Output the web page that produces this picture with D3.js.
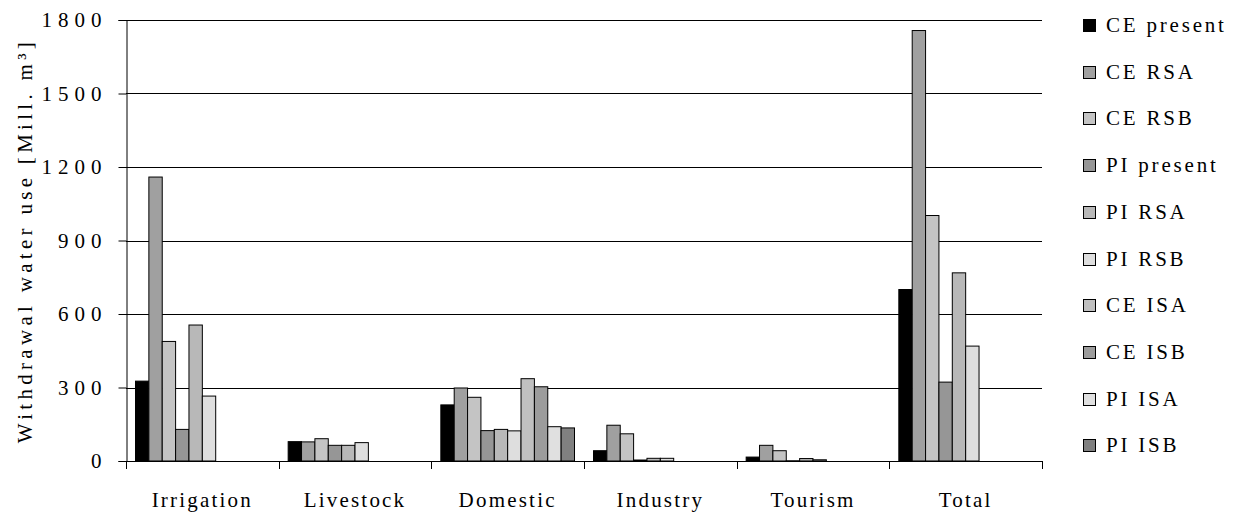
<!DOCTYPE html>
<html>
<head>
<meta charset="utf-8">
<script src="https://cdn.jsdelivr.net/npm/d3@7"></script>
<style>
  body { margin: 0; background: #fff; }
  #chart text { font-family: "Liberation Serif", "DejaVu Serif", serif !important; }
</style>
</head>
<body>
<svg id="chart" width="1237" height="512"></svg>
<script>
const categories = ["Irrigation", "Livestock", "Domestic", "Industry", "Tourism", "Total"];
const seriesNames = ["CE present", "CE RSA", "CE RSB", "PI present", "PI RSA", "PI RSB",
                     "CE ISA", "CE ISB", "PI ISA", "PI ISB"];
const yTicks = [0, 300, 600, 900, 1200, 1500, 1800];

// one array per series, in category order
const cePresent = [326, 79, 229, 42, 16, 700];
const ceRSA     = [1159, 78, 298, 146, 64, 1757];
const ceRSB     = [488, 91, 260, 111, 42, 1002];
const piPresent = [129, 64, 124, 4, 1, 322];
const piRSA     = [555, 64, 129, 11, 10, 768];
const piRSB     = [265, 75, 123, 11, 5, 469];
const ceISA     = [0, 0, 336, 0, 0, 0];
const ceISB     = [0, 0, 303, 0, 0, 0];
const piISA     = [0, 0, 140, 0, 0, 0];
const piISB     = [0, 0, 135, 0, 0, 0];

const seriesValues = [cePresent, ceRSA, ceRSB, piPresent, piRSA, piRSB, ceISA, ceISB, piISA, piISB];
const fills = ["#000000", "#a0a0a0", "#c4c4c4", "#969696", "#b8b8b8",
               "#dedede", "#c0c0c0", "#9c9c9c", "#e0e0e0", "#808080"];

const svg = d3.select("#chart");
const margin = { top: 20, right: 195, bottom: 51, left: 126 };
const width = 1237, height = 512;

const x0 = d3.scaleBand()
  .domain(categories)
  .range([margin.left, width - margin.right])
  .padding(0);

const gap = 19;
const x1 = d3.scaleBand()
  .domain(seriesNames)
  .range([gap / 2, x0.bandwidth() - gap / 2])
  .padding(0);

const y = d3.scaleLinear()
  .domain([0, 1800])
  .range([height - margin.bottom, margin.top]);

// gridlines
svg.append("g")
  .selectAll("line")
  .data(yTicks)
  .enter().append("line")
  .attr("x1", margin.left)
  .attr("x2", width - margin.right)
  .attr("y1", d => Math.round(y(d)) + 0.5)
  .attr("y2", d => Math.round(y(d)) + 0.5)
  .attr("stroke", "#000")
  .attr("stroke-width", 1);

// bars
const rows = [];
categories.forEach((c, i) => {
  seriesNames.forEach((s, j) => {
    rows.push({ cat: c, key: s, value: seriesValues[j][i], fill: fills[j] });
  });
});

svg.append("g")
  .selectAll("rect")
  .data(rows.filter(d => d.value > 0))
  .enter().append("rect")
  .attr("x", d => x0(d.cat) + x1(d.key))
  .attr("y", d => y(d.value))
  .attr("width", x1.bandwidth())
  .attr("height", d => y(0) - y(d.value))
  .attr("fill", d => d.fill)
  .attr("stroke", "#000")
  .attr("stroke-width", 1);

// Y axis
const yAxis = svg.append("g")
  .attr("transform", `translate(${margin.left + 0.5},0)`)
  .call(d3.axisLeft(y).tickValues(yTicks).tickFormat(d => d).tickSize(8).tickPadding(11));
yAxis.attr("font-size", 21);
yAxis.select(".domain").attr("stroke", "#000");
yAxis.selectAll("text")
  .style("letter-spacing", "6px")
  .attr("fill", "#000");

// X axis
const xAxis = svg.append("g")
  .attr("transform", `translate(0,${Math.round(y(0)) + 0.5})`)
  .call(d3.axisBottom(x0).tickSize(0).tickPadding(31));
xAxis.attr("font-size", 21);
xAxis.select(".domain").attr("d", `M${margin.left},0H${width - margin.right}`).attr("stroke", "#000");
xAxis.selectAll("text")
  .style("letter-spacing", "2.2px")
  .attr("fill", "#000");

// boundary ticks between categories
svg.append("g")
  .selectAll("line")
  .data(categories.concat(["end"]))
  .enter().append("line")
  .attr("x1", (d, i) => Math.round(margin.left + i * x0.bandwidth()) + 0.5)
  .attr("x2", (d, i) => Math.round(margin.left + i * x0.bandwidth()) + 0.5)
  .attr("y1", y(0))
  .attr("y2", y(0) + 8)
  .attr("stroke", "#000");

// Y label
svg.append("text")
  .attr("transform", `translate(32,${(y(0) + y(1800)) / 2}) rotate(-90)`)
  .attr("text-anchor", "middle")
  .attr("font-size", 21)
  .style("letter-spacing", "4.3px")
  .text("Withdrawal water use [Mill. m³]");

// legend
const legend = svg.append("g").attr("font-size", 21);
seriesNames.forEach((s, j) => {
  const cy = 25 + j * 46.7;
  legend.append("rect")
    .attr("x", 1083.5)
    .attr("y", Math.round(cy - 6) + 0.5)
    .attr("width", 12)
    .attr("height", 12)
    .attr("fill", fills[j])
    .attr("stroke", "#000");
  legend.append("text")
    .attr("x", 1106)
    .attr("y", cy + 7)
    .style("letter-spacing", "2.8px")
    .text(s);
});
</script>
</body>
</html>
